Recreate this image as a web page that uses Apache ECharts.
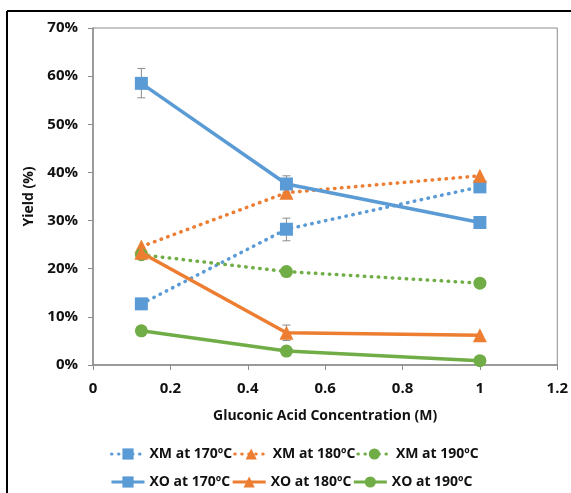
<!DOCTYPE html>
<html>
<head>
<meta charset="utf-8">
<script src="https://cdn.jsdelivr.net/npm/echarts@6/dist/echarts.min.js"></script>
<style>
  html, body { margin: 0; padding: 0; background: #fff; }
  #chart { width: 571px; height: 493px; }
</style>
</head>
<body>
<div id="chart"></div>
<script>
// Gluconic acid concentration (M)
const concentrations = [0.125, 0.5, 1];

// Yields (%) — xylose monomer (XM) and xylo-oligomer (XO) at each temperature
const xm170 = [12.7, 28.2, 37.0];
const xm180 = [24.6, 35.8, 39.3];
const xm190 = [22.9, 19.4, 17.0];
const xo170 = [58.5, 37.6, 29.6];
const xo180 = [23.3, 6.7, 6.2];
const xo190 = [7.1, 2.9, 0.9];

// Error bars: [concentration, low, high]
const errXo170 = [[0.125, 55.5, 61.6], [0.5, 35.9, 39.3], [1, 29.3, 30.0]];
const errXm170 = [[0.5, 25.8, 30.5]];
const errXo180 = [[0.5, 5.1, 8.3]];

const BLUE = '#5B9BD5', ORANGE = '#ED7D31', GREEN = '#70AD47';
const FONT = '"Open Sans", "Liberation Sans", sans-serif';

function pairs(ys) { return concentrations.map((x, i) => [x, ys[i]]); }

const dotted = { type: [0.5, 6.5], cap: 'round', width: 3.5 };

function lineSeries(name, ys, color, symbol, size, isDotted) {
  return {
    name, type: 'line', data: pairs(ys),
    symbol, symbolSize: size,
    itemStyle: { color },
    lineStyle: isDotted ? Object.assign({ color }, dotted) : { color, width: 3.5 },
    z: isDotted ? 3 : 4,
    animation: false
  };
}

function errorSeries(data) {
  return {
    type: 'custom', data, z: 2, animation: false, silent: true,
    renderItem(params, api) {
      const top = api.coord([api.value(0), api.value(2)]);
      const bot = api.coord([api.value(0), api.value(1)]);
      const w = 4;
      const st = { stroke: '#8c8c8c', lineWidth: 1 };
      return {
        type: 'group', children: [
          { type: 'line', shape: { x1: top[0], y1: top[1], x2: bot[0], y2: bot[1] }, style: st },
          { type: 'line', shape: { x1: top[0] - w, y1: top[1], x2: top[0] + w, y2: top[1] }, style: st },
          { type: 'line', shape: { x1: bot[0] - w, y1: bot[1], x2: bot[0] + w, y2: bot[1] }, style: st }
        ]
      };
    }
  };
}

const chart = echarts.init(document.getElementById('chart'), null, { renderer: 'canvas' });

const legendCommon = {
  left: 105, itemWidth: 33, itemHeight: 14, itemGap: 1,
  lineStyle: { width: 3 },
  textStyle: { fontFamily: FONT, fontWeight: 'bold', fontSize: 14, color: '#111' },
  selectedMode: false
};

chart.setOption({
  backgroundColor: '#fff',
  animation: false,
  grid: { left: 93, right: 11, top: 28, bottom: 128, show: true, borderColor: '#8c8c8c', borderWidth: 1 },
  xAxis: {
    type: 'value', min: 0, max: 1.2, interval: 0.2,
    name: 'Gluconic Acid Concentration (M)', nameLocation: 'middle', nameGap: 44,
    nameTextStyle: { fontFamily: FONT, fontWeight: 'bold', fontSize: 14, color: '#111' },
    axisLine: { show: true, lineStyle: { color: '#8c8c8c', width: 1.5 } },
    axisTick: { show: true, length: 5, lineStyle: { color: '#8c8c8c' } },
    axisLabel: { fontFamily: FONT, fontWeight: 'bold', fontSize: 15, color: '#111', margin: 16,
      formatter: v => String(Math.round(v * 10) / 10) },
    splitLine: { show: false }
  },
  yAxis: {
    type: 'value', min: 0, max: 70, interval: 10,
    name: 'Yield (%)', nameLocation: 'middle', nameGap: 53, nameRotate: 90,
    nameTextStyle: { fontFamily: FONT, fontWeight: 'bold', fontSize: 14, color: '#111' },
    axisLine: { show: true, lineStyle: { color: '#8c8c8c', width: 1.5 } },
    axisTick: { show: true, length: 5, inside: false, lineStyle: { color: '#8c8c8c' } },
    axisLabel: { fontFamily: FONT, fontWeight: 'bold', fontSize: 15, color: '#111', margin: 15, formatter: '{value}%' },
    splitLine: { show: false }
  },
  legend: [
    Object.assign({ top: 442, data: ['XM at 170ºC', 'XM at 180ºC', 'XM at 190ºC'] }, legendCommon),
    Object.assign({ top: 470, data: ['XO at 170ºC', 'XO at 180ºC', 'XO at 190ºC'] }, legendCommon)
  ],
  graphic: [
    { type: 'line', shape: { x1: 7, y1: 11, x2: 571, y2: 11 }, style: { stroke: '#000', lineWidth: 2 } },
    { type: 'line', shape: { x1: 7, y1: 11, x2: 7, y2: 493 }, style: { stroke: '#000', lineWidth: 2 } }
  ],
  series: [
    errorSeries(errXo170),
    errorSeries(errXm170),
    errorSeries(errXo180),
    lineSeries('XM at 170ºC', xm170, BLUE, 'rect', 13, true),
    lineSeries('XM at 180ºC', xm180, ORANGE, 'triangle', 14, true),
    lineSeries('XM at 190ºC', xm190, GREEN, 'circle', 13, true),
    lineSeries('XO at 170ºC', xo170, BLUE, 'rect', 13, false),
    lineSeries('XO at 180ºC', xo180, ORANGE, 'triangle', 14, false),
    lineSeries('XO at 190ºC', xo190, GREEN, 'circle', 13, false)
  ]
});
</script>
</body>
</html>
